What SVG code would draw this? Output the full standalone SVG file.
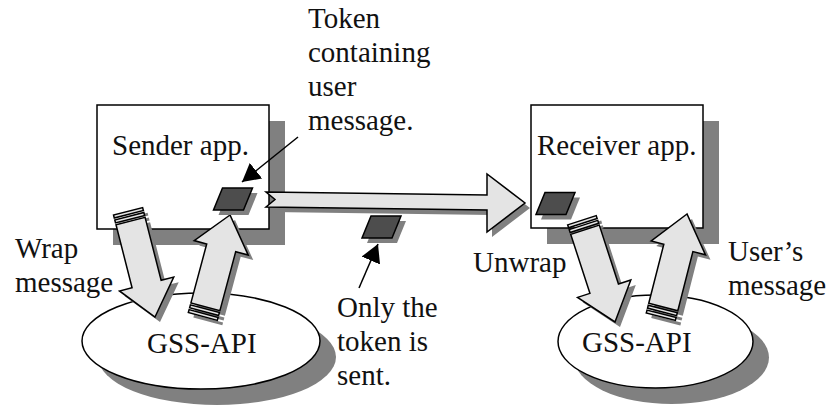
<svg xmlns="http://www.w3.org/2000/svg" xmlns:xlink="http://www.w3.org/1999/xlink" width="828" height="409" viewBox="0 0 828 409">
  <style>
    .shade { fill: #808080; stroke: none; }
    .panel { fill: #ffffff; stroke: #000000; stroke-width: 1.5; }
    .block { fill: #e4e4e4; stroke: #000000; stroke-width: 1.5; stroke-linejoin: miter; }
    .token { fill: #4d4d4d; stroke: #000000; stroke-width: 1.5; stroke-linejoin: miter; }
    .callout { fill: none; stroke: #000000; stroke-width: 1.5; }
    text { font-family: 'Liberation Serif', 'DejaVu Serif', serif; font-size: 29px; fill: #111111; }
  </style>
  <defs>
    <marker id="head" viewBox="0 0 18 20" refX="18" refY="10" markerWidth="18" markerHeight="20" markerUnits="userSpaceOnUse" orient="auto">
      <path d="M0,0 L18,10 L0,20 Z" fill="#000000"/>
    </marker>
    <!-- parallelogram token -->
    <path id="tok" d="M9,0 L39,0 L30,22 L0,22 Z"/>
    <!-- striped block arrows: tip at origin, body running back along -y -->
    <g id="wrapArrow" transform="translate(155,317) rotate(-14.3)">
      <path d="M0,0 L28,-34 L15,-34 L15,-99 L-15,-99 L-15,-34 L-28,-34 Z"/>
      <rect x="-15" y="-104" width="30" height="3"/>
      <rect x="-15" y="-109" width="30" height="3"/>
    </g>
    <g id="upArrowL" transform="translate(230,215) rotate(-165)">
      <path d="M0,0 L28,-34 L15,-34 L15,-95 L-15,-95 L-15,-34 L-28,-34 Z"/>
      <rect x="-15" y="-100" width="30" height="3"/>
      <rect x="-15" y="-105" width="30" height="3"/>
    </g>
    <g id="unwrapArrow" transform="translate(615,322) rotate(-18)">
      <path d="M0,0 L28,-35 L15,-35 L15,-97 L-15,-97 L-15,-35 L-28,-35 Z"/>
      <rect x="-15" y="-102" width="30" height="3"/>
      <rect x="-15" y="-107" width="30" height="3"/>
    </g>
    <g id="upArrowR" transform="translate(687,214) rotate(-165.7)">
      <path d="M0,0 L28,-35 L15,-35 L15,-96 L-15,-96 L-15,-35 L-28,-35 Z"/>
      <rect x="-15" y="-101" width="30" height="3"/>
      <rect x="-15" y="-106" width="30" height="3"/>
    </g>
    <!-- notched transfer arrow between the applications -->
    <path id="sendArrow" d="M266,192 L487,195 L487,174 L525,203 L487,232 L487,210 L266,207 L275,199.5 Z"/>
  </defs>

  <!-- nodes -->
  <g id="sender-app">
    <rect class="shade" x="113" y="121" width="172" height="124"/>
    <rect class="panel" x="97" y="105" width="172" height="124"/>
    <text x="112" y="155" font-family="Liberation Serif, serif">Sender app.</text>
  </g>
  <g id="receiver-app">
    <rect class="shade" x="547" y="121" width="172" height="123"/>
    <rect class="panel" x="531" y="105" width="172" height="123"/>
    <text x="537" y="155" font-family="Liberation Serif, serif">Receiver app.</text>
  </g>
  <g id="gss-api-sender">
    <ellipse class="shade" cx="217" cy="357" rx="119" ry="48"/>
    <ellipse class="panel" cx="201" cy="341" rx="119" ry="48"/>
  </g>
  <g id="gss-api-receiver">
    <ellipse class="shade" cx="671.5" cy="357.5" rx="97.5" ry="46.5"/>
    <ellipse class="panel" cx="655.5" cy="341.5" rx="97.5" ry="46.5"/>
  </g>

  <!-- connectors -->
  <g id="connectors">
    <use xlink:href="#wrapArrow" class="shade" x="5" y="5"/>
    <use xlink:href="#wrapArrow" class="block"/>
    <use xlink:href="#upArrowL" class="shade" x="5" y="5"/>
    <use xlink:href="#upArrowL" class="block"/>
    <use xlink:href="#unwrapArrow" class="shade" x="5" y="5"/>
    <use xlink:href="#unwrapArrow" class="block"/>
    <use xlink:href="#upArrowR" class="shade" x="5" y="5"/>
    <use xlink:href="#upArrowR" class="block"/>
    <use xlink:href="#sendArrow" class="shade" x="5" y="5"/>
    <use xlink:href="#sendArrow" class="block"/>
    <line class="callout" x1="298" y1="137" x2="242" y2="182" marker-end="url(#head)"/>
    <line class="callout" x1="359" y1="288" x2="378" y2="244" marker-end="url(#head)"/>
  </g>

  <!-- tokens -->
  <g id="token-sender">
    <use xlink:href="#tok" class="shade" x="218.5" y="193"/>
    <use xlink:href="#tok" class="token" x="213.5" y="188"/>
  </g>
  <g id="token-wire">
    <use xlink:href="#tok" class="shade" x="367" y="221"/>
    <use xlink:href="#tok" class="token" x="362" y="216"/>
  </g>
  <g id="token-receiver">
    <use xlink:href="#tok" class="shade" x="541" y="197.5"/>
    <use xlink:href="#tok" class="token" x="536" y="192.5"/>
  </g>

  <!-- labels -->
  <g id="labels" font-family="Liberation Serif, serif">
    <text x="147" y="353">GSS-API</text>
    <text x="582" y="352">GSS-API</text>
    <text x="308" y="28">Token</text>
    <text x="308" y="62">containing</text>
    <text x="308" y="96">user</text>
    <text x="308" y="130">message.</text>
    <text x="15" y="258">Wrap</text>
    <text x="15" y="292">message</text>
    <text x="337" y="317">Only the</text>
    <text x="337" y="351">token is</text>
    <text x="337" y="385">sent.</text>
    <text x="473" y="272">Unwrap</text>
    <text x="728" y="261">User’s</text>
    <text x="728" y="295">message</text>
  </g>
</svg>
